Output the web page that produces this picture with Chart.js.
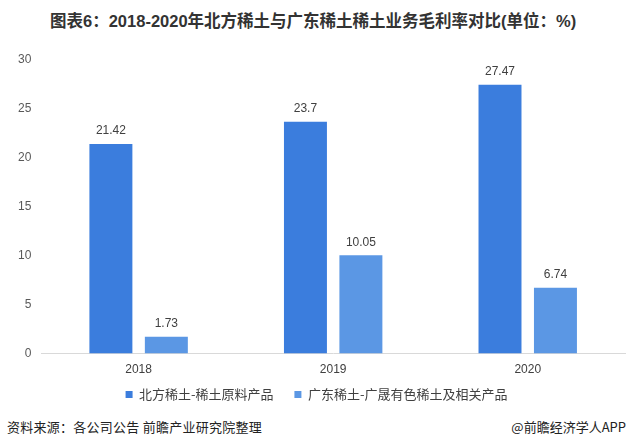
<!DOCTYPE html>
<html><head><meta charset="utf-8">
<script src="https://cdn.jsdelivr.net/npm/chart.js@4"></script>
<style>
html,body{margin:0;padding:0;background:#fff;width:627px;height:447px;overflow:hidden;font-family:"Liberation Sans","Noto Sans CJK SC",sans-serif;}
#title{position:absolute;left:50px;top:11px;line-height:20px;font-size:16.5px;font-weight:bold;color:#333;font-family:"Liberation Sans","Noto Sans CJK SC",sans-serif;white-space:nowrap;}
#wrap{position:absolute;left:0;top:40px;width:627px;height:371px;}
#src{position:absolute;left:7px;top:419px;line-height:16px;font-size:13px;letter-spacing:0.25px;color:#222;font-family:"Noto Sans CJK SC",sans-serif;white-space:nowrap;}
#app{position:absolute;right:1px;top:419px;line-height:16px;font-size:13px;color:#222;font-family:"Noto Sans CJK SC",sans-serif;white-space:nowrap;}
</style></head>
<body>
<div id="title">图表6：2018-2020年北方稀土与广东稀土稀土业务毛利率对比(单位：%)</div>
<div id="wrap"><canvas id="c"></canvas></div>
<div id="src">资料来源：各公司公告 前瞻产业研究院整理</div>
<div id="app">@前瞻经济学人APP</div>
<script>
const categories = ["2018", "2019", "2020"];
const seriesNames = ["北方稀土-稀土原料产品", "广东稀土-广晟有色稀土及相关产品"];
const northValues = [21.42, 23.7, 27.47];
const guangdongValues = [1.73, 10.05, 6.74];
const yTicks = [0, 5, 10, 15, 20, 25, 30];

const labelPlugin = {
  id: 'barLabels',
  afterDatasetsDraw(chart) {
    const ctx = chart.ctx;
    ctx.save();
    ctx.font = '12px "Liberation Sans", sans-serif';
    ctx.fillStyle = '#404040';
    ctx.textAlign = 'center';
    ctx.textBaseline = 'bottom';
    chart.data.datasets.forEach((ds, i) => {
      chart.getDatasetMeta(i).data.forEach((bar, j) => {
        ctx.fillText(String(ds.data[j]), bar.x, bar.y - 7);
      });
    });
    ctx.restore();
  }
};

new Chart(document.getElementById('c'), {
  type: 'bar',
  data: {
    labels: categories,
    datasets: [
      { label: seriesNames[0], data: northValues, backgroundColor: '#3b7ddd', categoryPercentage: 0.57, barPercentage: 0.775 },
      { label: seriesNames[1], data: guangdongValues, backgroundColor: '#5b97e4', categoryPercentage: 0.57, barPercentage: 0.775 }
    ]
  },
  options: {
    responsive: true,
    maintainAspectRatio: false,
    animation: false,
    layout: { padding: { top: 20, right: 2, left: 8, bottom: 0 } },
    plugins: {
      legend: {
        position: 'bottom',
        labels: {
          boxWidth: 7, boxHeight: 7, color: '#404040', padding: 2,
          font: { size: 13, family: '"Noto Sans CJK SC", sans-serif' },
          generateLabels(chart) {
            const items = Chart.defaults.plugins.legend.labels.generateLabels(chart);
            items.forEach((it, i) => { if (i < items.length - 1) it.text = it.text + '\u3000  '; });
            return items;
          }
        }
      },
      tooltip: { enabled: false }
    },
    scales: {
      x: {
        grid: { display: false, drawTicks: false },
        border: { display: true, color: '#d9d9d9' },
        ticks: { color: '#404040', font: { size: 12, family: '"Liberation Sans", sans-serif' }, padding: 9 }
      },
      y: {
        min: 0, max: 30,
        afterBuildTicks(axis) { axis.ticks = yTicks.map(v => ({ value: v })); },
        grid: { display: false, drawTicks: false },
        border: { display: false },
        ticks: { color: '#595959', font: { size: 12, family: '"Liberation Sans", sans-serif' }, padding: 10 }
      }
    }
  },
  plugins: [labelPlugin]
});
</script>
</body></html>
